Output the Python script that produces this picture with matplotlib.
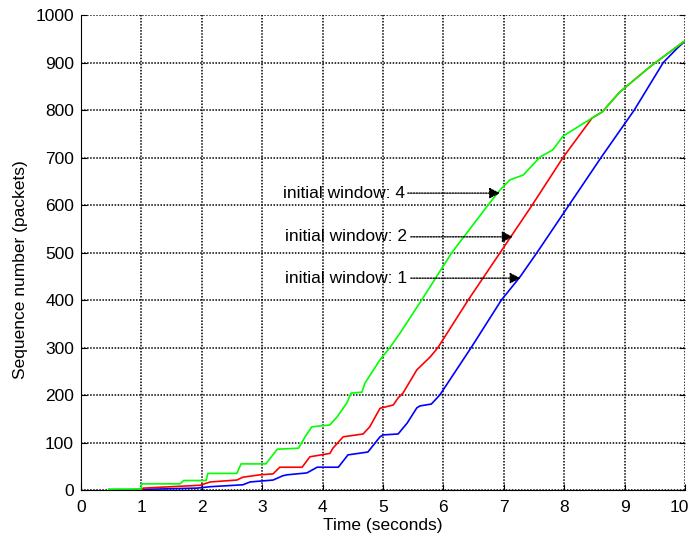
import matplotlib.pyplot as plt
from matplotlib.transforms import ScaledTranslation

plt.rcParams['font.family'] = ['Liberation Sans', 'DejaVu Sans']
plt.rcParams['font.size'] = 12.5

# sequence number vs time, one trace per initial window size
t_w1 = [0.56, 1.92, 2.14, 2.68, 2.8, 3.18, 3.34, 3.41, 3.74, 3.91, 4.26, 4.42,
        4.75, 4.95, 5.0, 5.25, 5.4, 5.56, 5.61, 5.8, 5.94, 6.46, 6.96, 7.27,
        7.55, 8.08, 8.61, 9.16, 9.64, 9.87, 10.0]
seq_w1 = [0, 4, 7, 11, 17, 21, 30, 32, 36, 48, 48, 74,
          80, 112, 116, 118, 141, 173, 177, 181, 200, 300, 400, 449,
          500, 600, 700, 800, 900, 930, 945]

t_w2 = [0.7, 1.0, 1.03, 1.97, 2.14, 2.58, 2.68, 2.96, 3.18, 3.29, 3.66, 3.79,
        4.12, 4.17, 4.34, 4.67, 4.78, 4.95, 5.17, 5.25, 5.33, 5.56, 5.78, 5.91,
        6.41, 6.94, 7.47, 7.98, 8.46, 8.63, 8.92, 9.42, 9.64, 9.97, 10.0]
seq_w2 = [0, 0, 4, 10, 17, 21, 27, 32, 34, 48, 48, 70,
          77, 88, 112, 118, 133, 172, 179, 194, 204, 253, 280, 300,
          400, 500, 600, 700, 783, 796, 838, 891, 912, 943, 945]

t_w4 = [0.46, 1.0, 1.0, 1.64, 1.7, 2.07, 2.1, 2.58, 2.65, 3.06, 3.25, 3.6,
        3.71, 3.82, 4.12, 4.24, 4.4, 4.47, 4.65, 4.7, 4.95, 5.12, 5.28, 5.64,
        6.14, 6.74, 6.94, 7.1, 7.32, 7.6, 7.81, 7.98, 8.46, 8.63, 8.92, 9.42,
        9.64, 9.97, 10.0]
seq_w4 = [2, 2, 13, 13, 20, 20, 35, 35, 55, 55, 86, 88,
          112, 133, 137, 154, 183, 204, 206, 225, 274, 301, 330, 400,
          500, 600, 632, 653, 663, 701, 716, 745, 783, 796, 838, 891,
          912, 943, 945]

# (label, text anchor, arrow start, arrow tip)
notes = [
    ('initial window: 4', (3.34, 625), (5.41, 625), (6.94, 625)),
    ('initial window: 2', (3.38, 533), (5.46, 533), (7.15, 533)),
    ('initial window: 1', (3.38, 446), (5.46, 446), (7.28, 446)),
]

fig = plt.figure(figsize=(6.93, 5.42), dpi=100)
ax = fig.add_axes([0.1169, 0.0959, 0.8716, 0.8764])

ax.plot(t_w1, seq_w1, color=(0, 0, 1), lw=1.2)
ax.plot(t_w2, seq_w2, color=(1, 0, 0), lw=1.2)
ax.plot(t_w4, seq_w4, color=(0, 1, 0), lw=1.2)

for label, txt, start, tip in notes:
    ax.text(txt[0], txt[1], label, ha='left', va='center')
    ax.annotate('', xy=tip, xytext=start,
                arrowprops=dict(arrowstyle='-|>', color='k', lw=1.0,
                                linestyle=(0, (1, 1)), mutation_scale=16,
                                shrinkA=0, shrinkB=0))

ax.set_xlim(0, 10)
ax.set_ylim(0, 1000)
ax.set_xticks(range(0, 11))
ax.set_yticks(range(0, 1001, 100))
ax.grid(True, color='k', linestyle=(0, (1, 1)), linewidth=1.1)
ax.tick_params(direction='in', length=4, right=True, pad=5)
ax.tick_params(axis='x', pad=7)
for side in ('top', 'right'):
    ax.spines[side].set_visible(False)

# nudge the last x label so it stays inside the figure
last = ax.get_xticklabels()[-1]
last.set_transform(last.get_transform() + ScaledTranslation(-4 / 72, 0, fig.dpi_scale_trans))

ax.set_xlabel('Time (seconds)')
ax.set_ylabel('Sequence number (packets)')
ax.xaxis.set_label_coords(0.5, -0.075)
ax.xaxis.label.set_va('center')
ax.yaxis.set_label_coords(-0.101, 0.465)
ax.yaxis.label.set_va('center')

fig.savefig('out.png', dpi=100)
